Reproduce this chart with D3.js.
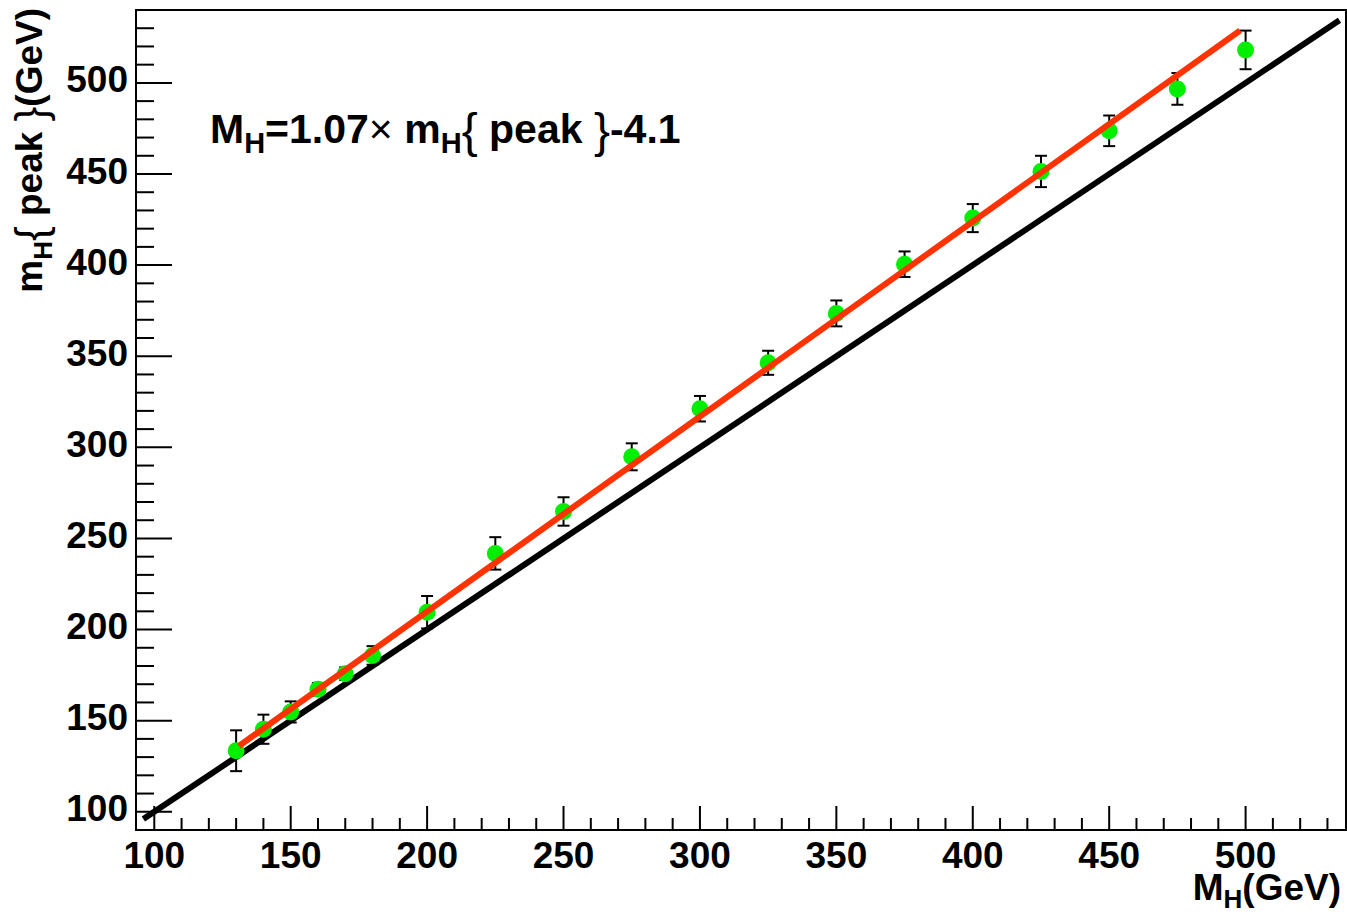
<!DOCTYPE html>
<html>
<head>
<meta charset="utf-8">
<script src="https://cdn.jsdelivr.net/npm/d3@7"></script>
<style>
  body { margin: 0; background: #fff; }
</style>
</head>
<body>
<div id="chart"></div>
<script>
// generated Higgs mass vs reconstructed peak position
const massPoints = [130, 140, 150, 160, 170, 180, 200, 225, 250, 275, 300, 325, 350, 375, 400, 425, 450, 475, 500];
const peakValues = [133.5, 145.3, 154.8, 167.2, 175.8, 185.8, 209.5, 241.8, 264.8, 294.8, 321.2, 346.4, 373.5, 400.5, 425.8, 451.4, 473.7, 496.7, 518.1];
const peakErrors = [11.2, 8, 5.8, 3.5, 3.5, 5.1, 8.9, 8.9, 7.8, 7.4, 7, 6.6, 7.1, 7, 7.7, 8.6, 8.4, 8.7, 10.6];

const xTickValues = [100, 150, 200, 250, 300, 350, 400, 450, 500];
const yTickValues = [100, 150, 200, 250, 300, 350, 400, 450, 500];

// linear fit and the y = x reference
const fitSlope = 1.07;
const fitOffset = -4.1;
const fitRange = [131, 498];
const diagonalRange = [96, 534.4];

const svg = d3.select("#chart")
    .append("svg")
    .attr("width", 1347)
    .attr("height", 916)
    .attr("font-family", "'Liberation Sans', Arial, Helvetica, sans-serif")
    .attr("font-weight", "bold");

const frame = { left: 136, right: 1346, top: 10, bottom: 830 };

const x = d3.scaleLinear()
    .domain([93.3, 536.8])
    .range([frame.left, frame.right]);

const y = d3.scaleLinear()
    .domain([90, 540])
    .range([frame.bottom, frame.top]);

// frame
svg.append("rect")
    .attr("x", frame.left)
    .attr("y", frame.top)
    .attr("width", frame.right - frame.left)
    .attr("height", frame.bottom - frame.top)
    .attr("fill", "none")
    .attr("stroke", "#000")
    .attr("stroke-width", 2);

// ticks (minor every 10)
const xMinor = d3.range(100, 537, 10);
const yMinor = d3.range(90, 541, 10);

svg.append("g")
    .selectAll("line")
    .data(xMinor)
    .enter().append("line")
    .attr("x1", d => x(d))
    .attr("x2", d => x(d))
    .attr("y1", frame.bottom)
    .attr("y2", d => frame.bottom - (d % 50 === 0 ? 24 : 12))
    .attr("stroke", "#000")
    .attr("stroke-width", 2);

svg.append("g")
    .selectAll("line")
    .data(yMinor)
    .enter().append("line")
    .attr("y1", d => y(d))
    .attr("y2", d => y(d))
    .attr("x1", frame.left)
    .attr("x2", d => frame.left + (d % 50 === 0 ? 36 : 18))
    .attr("stroke", "#000")
    .attr("stroke-width", 2);

// tick labels
svg.append("g")
    .attr("font-size", 37)
    .attr("text-anchor", "middle")
    .selectAll("text")
    .data(xTickValues)
    .enter().append("text")
    .attr("x", d => x(d))
    .attr("y", frame.bottom + 38)
    .text(d => d);

svg.append("g")
    .attr("font-size", 37)
    .attr("text-anchor", "end")
    .selectAll("text")
    .data(yTickValues)
    .enter().append("text")
    .attr("x", 128)
    .attr("y", d => y(d) + 9.5)
    .text(d => d);

// axis titles
const xTitle = svg.append("text")
    .attr("x", 1341)
    .attr("y", 900)
    .attr("font-size", 37)
    .attr("text-anchor", "end");
xTitle.append("tspan").text("M");
xTitle.append("tspan").attr("font-size", 26).attr("dy", 8).text("H");
xTitle.append("tspan").attr("dy", -8).text("(GeV)");

const yTitle = svg.append("text")
    .attr("transform", "translate(42,8)rotate(-90)")
    .attr("font-size", 37)
    .attr("text-anchor", "end");
yTitle.append("tspan").text("m");
yTitle.append("tspan").attr("font-size", 26).attr("dy", 10).text("H");
yTitle.append("tspan").attr("dy", -6).attr("font-size", 44).attr("font-weight", "normal").text("{");
yTitle.append("tspan").attr("dy", -4).text(" peak ");
yTitle.append("tspan").attr("dy", 4).attr("font-size", 44).attr("font-weight", "normal").text("}");
yTitle.append("tspan").attr("dy", -4).text("(GeV)");

// y = x reference line
svg.append("line")
    .attr("x1", x(diagonalRange[0]))
    .attr("y1", y(diagonalRange[0]))
    .attr("x2", x(diagonalRange[1]))
    .attr("y2", y(diagonalRange[1]))
    .attr("stroke", "#000")
    .attr("stroke-width", 6);

// error bars
const bars = svg.append("g")
    .attr("stroke", "#000")
    .attr("stroke-width", 2)
    .selectAll("g")
    .data(massPoints)
    .enter().append("g");

bars.append("line")
    .attr("x1", d => x(d))
    .attr("x2", d => x(d))
    .attr("y1", (d, i) => y(peakValues[i] - peakErrors[i]))
    .attr("y2", (d, i) => y(peakValues[i] + peakErrors[i]));

bars.append("line")
    .attr("x1", d => x(d) - 6)
    .attr("x2", d => x(d) + 6)
    .attr("y1", (d, i) => y(peakValues[i] + peakErrors[i]))
    .attr("y2", (d, i) => y(peakValues[i] + peakErrors[i]));

bars.append("line")
    .attr("x1", d => x(d) - 6)
    .attr("x2", d => x(d) + 6)
    .attr("y1", (d, i) => y(peakValues[i] - peakErrors[i]))
    .attr("y2", (d, i) => y(peakValues[i] - peakErrors[i]));

// points
svg.append("g")
    .selectAll("circle")
    .data(massPoints)
    .enter().append("circle")
    .attr("cx", d => x(d))
    .attr("cy", (d, i) => y(peakValues[i]))
    .attr("r", 8.5)
    .attr("fill", "#00ee00");

// fit line
svg.append("line")
    .attr("x1", x(fitRange[0]))
    .attr("y1", y(fitSlope * fitRange[0] + fitOffset))
    .attr("x2", x(fitRange[1]))
    .attr("y2", y(fitSlope * fitRange[1] + fitOffset))
    .attr("stroke", "#ff3300")
    .attr("stroke-width", 6);

// fit annotation
const note = svg.append("text")
    .attr("x", 210)
    .attr("y", 143)
    .attr("font-size", 41);
note.append("tspan").text("M");
note.append("tspan").attr("font-size", 29).attr("dy", 10).text("H");
note.append("tspan").attr("dy", -10).text("=1.07");
note.append("tspan").attr("font-weight", "normal").text("\u00d7");
note.append("tspan").text(" m");
note.append("tspan").attr("font-size", 29).attr("dy", 10).text("H");
note.append("tspan").attr("dy", -6).attr("font-size", 48).attr("font-weight", "normal").text("{");
note.append("tspan").attr("dy", -4).text(" peak ");
note.append("tspan").attr("dy", 4).attr("font-size", 48).attr("font-weight", "normal").text("}");
note.append("tspan").attr("dy", -4).text("-4.1");
</script>
</body>
</html>
